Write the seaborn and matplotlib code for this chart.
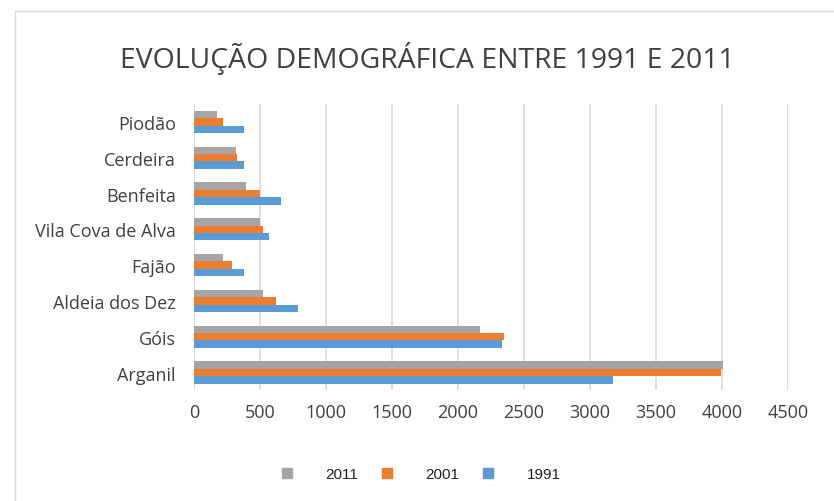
import pandas as pd
import matplotlib
matplotlib.use("Agg")
import matplotlib.pyplot as plt
from matplotlib.lines import Line2D
import seaborn as sns

# Data
localidades = ["Piodão", "Cerdeira", "Benfeita", "Vila Cova de Alva",
               "Fajão", "Aldeia dos Dez", "Góis", "Arganil"]
pop_2011 = [172, 318, 391, 503, 222, 525, 2169, 4005]
pop_2001 = [222, 328, 503, 525, 285, 621, 2346, 3990]
pop_1991 = [381, 381, 662, 566, 381, 785, 2333, 3177]
anos = ["2011", "2001", "1991"]
cores = ["#A5A5A5", "#ED7D31", "#5B9BD5"]
x_ticks = [0, 500, 1000, 1500, 2000, 2500, 3000, 3500, 4000, 4500]

# Long format table for seaborn
df = pd.DataFrame({
    "Localidade": localidades * 3,
    "Ano": [a for a in anos for _ in localidades],
    "Pop": pop_2011 + pop_2001 + pop_1991,
})

sns.set_theme(style="white")
plt.rcParams["font.family"] = ["Open Sans", "DejaVu Sans"]

fig = plt.figure(figsize=(8.34, 5.02), dpi=100)
ax = fig.add_axes([0.2326, 0.2203, 0.7122, 0.5705])

sns.barplot(data=df, x="Pop", y="Localidade", hue="Ano", hue_order=anos,
            order=localidades, palette=cores, width=0.62, saturation=1,
            edgecolor="none", ax=ax, legend=False)

ax.set_xlim(0, 4500)
ax.set_xticks(x_ticks)
ax.xaxis.grid(True, color="#D9D9D9", linewidth=1.2)
ax.set_axisbelow(True)
for s in ax.spines.values():
    s.set_visible(False)
ax.set_xlabel("")
ax.set_ylabel("")
ax.tick_params(axis="both", length=0, labelsize=13, labelcolor="#404040")
ax.tick_params(axis="x", pad=9)
ax.tick_params(axis="y", pad=13)

fig.text(0.512, 0.884, "EVOLUÇÃO DEMOGRÁFICA ENTRE 1991 E 2011",
         ha="center", va="center", fontsize=20.4, color="#404040")

# legend
handles = [Line2D([], [], marker="s", linestyle="none", markersize=7,
                  color=c) for c in cores]
fig.legend(handles, anos, loc="center", bbox_to_anchor=(0.499, 0.054),
           ncol=3, frameon=False, handletextpad=1.5,
           columnspacing=0.9, labelcolor="#222222",
           prop={"family": "Liberation Sans", "size": 11})

# chart frame (left and top edges visible)
fig.add_artist(Line2D([15 / 834, 15 / 834], [0, 1 - 12 / 502],
                      color="#D9D9D9", linewidth=1))
fig.add_artist(Line2D([15 / 834, 1], [1 - 12 / 502, 1 - 12 / 502],
                      color="#D9D9D9", linewidth=1))

fig.savefig("out.png", dpi=100)
